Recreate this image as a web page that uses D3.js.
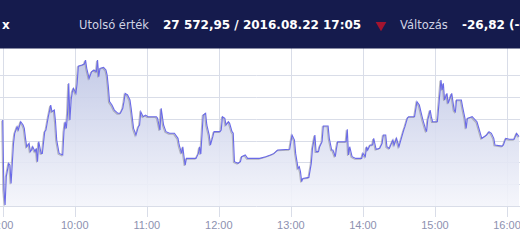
<!DOCTYPE html>
<html>
<head>
<meta charset="utf-8">
<script src="https://cdn.jsdelivr.net/npm/d3@7"></script>
<style>
  body { margin: 0; background: #fff; overflow: hidden; }
  svg { display: block; }
</style>
</head>
<body>
<div id="chart"></div>
<script>
// BUX intraday, 2016.08.22
const times = ["9:00","9:01","9:02","9:03","9:05","9:06","9:07","9:08","9:09","9:10","9:12","9:13","9:15","9:17","9:18","9:19","9:20","9:22","9:23","9:24","9:25","9:27","9:28","9:29","9:30","9:32","9:33","9:35","9:36","9:38","9:40","9:41","9:43","9:44","9:45","9:47","9:50","9:51","9:52","9:53","9:54","9:55","9:56","9:57","9:58","9:59",
  "10:01","10:02","10:03","10:06","10:08","10:09","10:10","10:12","10:14","10:16","10:18","10:19","10:20","10:21","10:24","10:26","10:27","10:28","10:29","10:31","10:33","10:36","10:38","10:40","10:41","10:42","10:44","10:46","10:47","10:49","10:50","10:51","10:53","10:54","10:55","10:57","10:59",
  "11:01","11:08","11:09","11:11","11:12","11:14","11:15","11:16","11:19","11:23","11:26","11:27","11:29","11:30","11:31","11:32","11:33","11:41","11:43","11:44","11:45","11:47","11:49","11:50","11:52","11:53","11:55","11:56",
  "12:01","12:02","12:03","12:05","12:06","12:08","12:09","12:11","12:12","12:13","12:16","12:18","12:19","12:22","12:24","12:34","12:39","12:43","12:46","12:49","12:59",
  "13:01","13:03","13:04","13:06","13:07","13:08","13:09","13:10","13:15","13:17","13:18","13:20","13:21","13:23","13:24","13:26","13:27","13:31","13:32","13:34","13:35","13:37","13:38","13:39","13:46","13:47","13:48","13:49","13:51","13:54","13:59",
  "14:00","14:02","14:03","14:04","14:06","14:08","14:09","14:11","14:14","14:16","14:17","14:19","14:20","14:22","14:25","14:26","14:28","14:30","14:32","14:34","14:35","14:37","14:38","14:43","14:45","14:47","14:49","14:50","14:52","14:53","14:54","14:56","14:57","14:58",
  "15:02","15:03","15:05","15:06","15:07","15:08","15:10","15:11","15:13","15:14","15:16","15:17","15:18","15:22","15:23","15:25","15:26","15:27","15:31","15:35","15:37","15:39","15:41","15:43","15:45","15:47","15:49","15:50","15:56","15:57","15:59",
  "16:02","16:06","16:08","16:10"];

const values = [27598.8,27534.6,27520.9,27546.9,27559.1,27557.5,27540.7,27559.1,27577.4,27586.6,27592.7,27589.6,27597.2,27594.2,27591.1,27582.0,27574.3,27577.4,27569.8,27571.3,27574.3,27569.8,27572.8,27560.6,27578.9,27568.2,27568.2,27588.1,27589.6,27601.8,27612.5,27606.4,27607.9,27597.2,27580.4,27568.2,27566.7,27588.1,27597.2,27591.1,27604.9,27632.4,27598.8,27617.1,27624.7,27627.8,
  27623.2,27632.4,27648.2,27649.2,27650.1,27653.7,27646.1,27636.9,27643.0,27644.6,27643.0,27653.7,27638.5,27646.1,27647.0,27644.6,27640.0,27629.3,27615.6,27612.5,27607.9,27604.9,27604.9,27609.5,27615.6,27623.2,27621.7,27617.1,27609.5,27591.1,27588.1,27585.0,27592.7,27594.2,27606.4,27601.8,27603.3,
  27601.8,27601.8,27600.3,27589.6,27609.5,27594.2,27591.1,27588.1,27586.6,27586.6,27582.0,27575.9,27568.2,27574.3,27565.2,27557.5,27563.6,27563.6,27568.2,27574.3,27567.6,27603.3,27604.9,27594.2,27585.0,27575.9,27583.5,27588.1,
  27588.1,27589.6,27601.8,27600.3,27594.2,27597.2,27595.7,27588.1,27586.6,27560.6,27559.1,27560.6,27565.2,27566.7,27563.6,27563.6,27565.2,27566.7,27568.2,27571.3,27571.9,
  27585.0,27580.4,27568.2,27554.5,27556.0,27551.4,27542.3,27545.3,27546.2,27559.1,27572.8,27585.0,27569.8,27569.8,27574.3,27578.9,27593.3,27593.3,27582.0,27571.3,27571.3,27565.2,27572.8,27578.9,27578.9,27590.2,27566.7,27574.3,27565.2,27563.6,27563.6,
  27568.2,27565.2,27574.3,27571.3,27575.9,27575.9,27582.0,27571.9,27572.8,27577.4,27585.0,27585.0,27574.3,27572.8,27580.4,27575.9,27582.0,27574.3,27582.0,27589.6,27592.7,27600.3,27601.8,27601.8,27615.6,27612.5,27603.3,27598.8,27591.1,27588.1,27598.8,27607.9,27601.8,27597.2,
  27597.2,27609.5,27635.4,27626.3,27632.4,27617.1,27623.2,27614.0,27620.1,27623.2,27607.9,27606.4,27617.1,27617.1,27611.0,27600.3,27591.1,27600.3,27601.8,27597.2,27589.6,27582.0,27583.5,27585.0,27588.1,27586.6,27582.0,27575.9,27574.9,27575.9,27582.0,
  27581.1,27581.1,27586.6,27583.5];

const hourTicks = ["9:00","10:00","11:00","12:00","13:00","14:00","15:00","16:00"];
const valueTicks = [27520, 27540, 27560, 27580, 27600, 27620, 27640];

// header texts
const headerName = "x";
const lastLabel = "Utolsó érték";
const lastValue = "27 572,95 / 2016.08.22 17:05";
const changeLabel = "Változás";
const changeValue = "-26,82 (-0,10%)";

const width = 520;
const height = 245;

const parseTime = d3.timeParse("%H:%M");
const data = times.map((t, i) => ({ t: parseTime(t), v: values[i] }));

const svg = d3.select("#chart")
  .append("svg")
  .attr("width", width)
  .attr("height", height);

const x = d3.scaleTime()
  .domain([parseTime("9:00"), parseTime("16:00")])
  .range([2.7, 507]);

const y = d3.scaleLinear()
  .domain([27520, 27640])
  .range([206, 75]);

// gradient for area
const defs = svg.append("defs");
const grad = defs.append("linearGradient")
  .attr("id", "areaGrad")
  .attr("gradientUnits", "userSpaceOnUse")
  .attr("x1", 0).attr("x2", 0)
  .attr("y1", 50).attr("y2", 206);
grad.append("stop").attr("offset", "0%").attr("stop-color", "#bac2e3");
grad.append("stop").attr("offset", "100%").attr("stop-color", "#f4f5fb");

// grid
svg.append("g")
  .selectAll("line")
  .data(valueTicks)
  .join("line")
  .attr("x1", 0).attr("x2", width)
  .attr("y1", d => Math.round(y(d)) + 0.5)
  .attr("y2", d => Math.round(y(d)) + 0.5)
  .attr("stroke", "#d9dde8");

svg.append("g")
  .selectAll("line")
  .data(hourTicks)
  .join("line")
  .attr("x1", d => Math.round(x(parseTime(d))) + 0.5)
  .attr("x2", d => Math.round(x(parseTime(d))) + 0.5)
  .attr("y1", 48).attr("y2", 217)
  .attr("stroke", "#d9dde8");

// area + line
const area = d3.area()
  .x(d => x(d.t))
  .y0(y(27520))
  .y1(d => y(d.v));

const line = d3.line()
  .x(d => x(d.t))
  .y(d => y(d.v));

svg.append("path")
  .datum(data)
  .attr("d", area)
  .attr("fill", "url(#areaGrad)")
  .attr("opacity", 0.9);

// grey shadow line under the blue one
svg.append("path")
  .datum(data)
  .attr("d", line)
  .attr("fill", "none")
  .attr("stroke", "#8e8e98")
  .attr("stroke-width", 1.1)
  .attr("opacity", 0.6)
  .attr("transform", "translate(-1,0.8)");

svg.append("path")
  .datum(data)
  .attr("d", line)
  .attr("fill", "none")
  .attr("stroke", "#6a6ae8")
  .attr("stroke-width", 1.1);

// x axis labels
svg.append("g")
  .selectAll("text")
  .data(hourTicks)
  .join("text")
  .attr("x", d => x(parseTime(d)))
  .attr("y", 228.5)
  .attr("text-anchor", "middle")
  .attr("font-family", "Liberation Sans, Arial, sans-serif")
  .attr("font-size", 11)
  .attr("fill", "#8d91b0")
  .text(d => d);

// header bar
svg.append("rect")
  .attr("x", 0).attr("y", 0)
  .attr("width", width).attr("height", 48.5)
  .attr("fill", "#151b4d");

const head = svg.append("g")
  .attr("font-family", "DejaVu Sans, Verdana, sans-serif");

head.append("text")
  .attr("x", 2).attr("y", 29)
  .attr("font-size", 12).attr("font-weight", "bold")
  .attr("fill", "#fff")
  .text(headerName);

head.append("text")
  .attr("x", 79).attr("y", 29)
  .attr("font-size", 11.5)
  .attr("fill", "#d0d3e4")
  .text(lastLabel);

head.append("text")
  .attr("x", 163).attr("y", 29)
  .attr("font-size", 12).attr("font-weight", "bold")
  .attr("fill", "#fff")
  .text(lastValue);

head.append("path")
  .attr("d", d3.symbol(d3.symbolTriangle, 50)())
  .attr("transform", "translate(381,25) rotate(180)")
  .attr("fill", "#a3142f");

head.append("text")
  .attr("x", 400).attr("y", 29)
  .attr("font-size", 11.5)
  .attr("fill", "#d0d3e4")
  .text(changeLabel);

head.append("text")
  .attr("x", 462).attr("y", 29)
  .attr("font-size", 12).attr("font-weight", "bold")
  .attr("fill", "#fff")
  .text(changeValue);
</script>
</body>
</html>
